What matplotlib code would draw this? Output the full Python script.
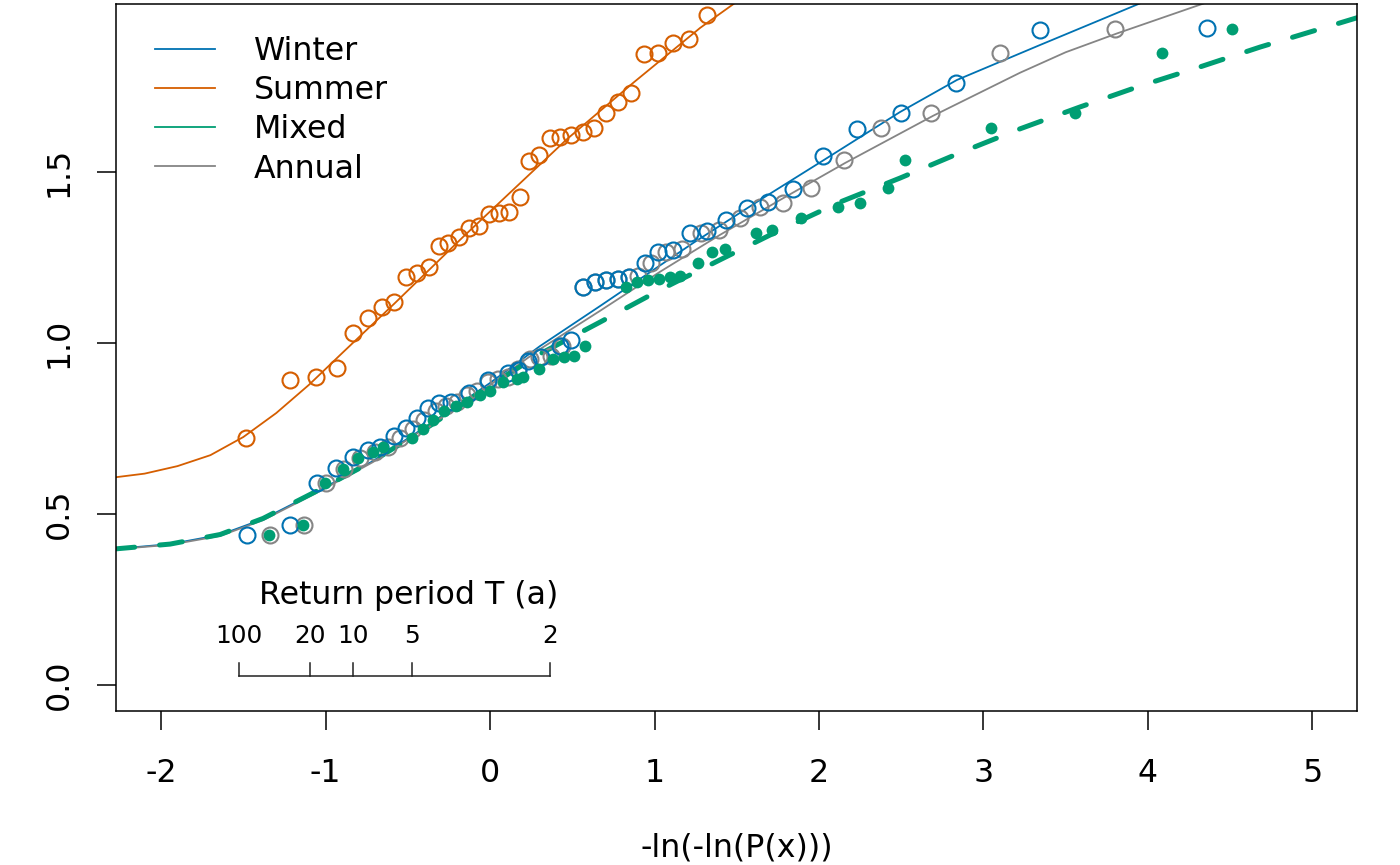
import numpy as np
import matplotlib
matplotlib.use("Agg")
import matplotlib.pyplot as plt
from matplotlib.lines import Line2D

plt.rcParams['font.family'] = ['DejaVu Sans']
plt.rcParams['axes.unicode_minus'] = False

# ---------------- data ----------------
series_names = ["Winter", "Summer", "Mixed", "Annual"]
series_colors = ["#0072B2", "#D55E00", "#009E73", "#858585"]

# Winter sample (open blue circles)
winter_x = [-1.477, -1.216, -1.052, -0.936, -0.833, -0.742, -0.669, -0.584, -0.511, -0.444,
            -0.377, -0.310, -0.237, -0.128, -0.012, 0.109, 0.170, 0.231, 0.310, 0.426,
            0.492, 0.565, 0.638, 0.705, 0.778, 0.845, 0.942, 1.021, 1.112, 1.216,
            1.319, 1.435, 1.562, 1.690, 1.842, 2.024, 2.231, 2.498, 2.833, 3.343, 4.359]
winter_y = [0.439, 0.468, 0.591, 0.635, 0.667, 0.687, 0.696, 0.728, 0.751, 0.781,
            0.810, 0.825, 0.827, 0.854, 0.892, 0.912, 0.921, 0.947, 0.959, 0.991,
            1.009, 1.164, 1.178, 1.184, 1.187, 1.193, 1.234, 1.266, 1.272, 1.322,
            1.327, 1.360, 1.395, 1.412, 1.450, 1.547, 1.626, 1.673, 1.760, 1.915, 1.921]

# Summer sample (open orange circles)
summer_x = [-1.483, -1.216, -1.058, -0.930, -0.833, -0.742, -0.657, -0.584, -0.511, -0.444,
            -0.371, -0.310, -0.255, -0.188, -0.128, -0.067, -0.006, 0.055, 0.116, 0.182,
            0.237, 0.298, 0.365, 0.426, 0.492, 0.565, 0.632, 0.705, 0.778, 0.857,
            0.936, 1.021, 1.112, 1.210, 1.319]
summer_y = [0.722, 0.892, 0.901, 0.927, 1.029, 1.073, 1.105, 1.120, 1.193, 1.205,
            1.222, 1.284, 1.292, 1.310, 1.336, 1.342, 1.377, 1.380, 1.383, 1.427,
            1.532, 1.550, 1.599, 1.602, 1.608, 1.617, 1.629, 1.673, 1.705, 1.731,
            1.845, 1.848, 1.877, 1.889, 1.959]

# Annual sample: values, Gumbel positions (grey circles), mixed positions (green dots)
annual_y = [0.439, 0.468, 0.591, 0.632, 0.664, 0.681, 0.696, 0.722, 0.749, 0.775,
            0.801, 0.816, 0.827, 0.848, 0.860, 0.886, 0.895, 0.901, 0.924, 0.953,
            0.959, 0.962, 0.991, 1.164, 1.178, 1.184, 1.187, 1.193, 1.196, 1.234,
            1.266, 1.275, 1.322, 1.330, 1.365, 1.398, 1.409, 1.453, 1.535, 1.629,
            1.673, 1.848, 1.918]
annual_x = [-1.34, -1.13, -1.00, -0.89, -0.79, -0.70, -0.62, -0.55, -0.47, -0.40,
            -0.33, -0.27, -0.20, -0.14, -0.08, -0.01, 0.05, 0.11, 0.17, 0.24,
            0.30, 0.37, 0.44, 0.565, 0.638, 0.705, 0.778, 0.845, 0.90, 0.98,
            1.07, 1.17, 1.28, 1.39, 1.52, 1.64, 1.78, 1.95, 2.15, 2.38,
            2.68, 3.10, 3.80]
mixed_x = [-1.343, -1.137, -1.003, -0.894, -0.802, -0.711, -0.650, -0.474, -0.407, -0.347,
           -0.280, -0.207, -0.140, -0.061, 0.000, 0.079, 0.164, 0.201, 0.298, 0.383,
           0.450, 0.511, 0.578, 0.827, 0.894, 0.960, 1.027, 1.094, 1.155, 1.264,
           1.350, 1.429, 1.617, 1.714, 1.891, 2.116, 2.249, 2.419, 2.523, 3.046,
           3.556, 4.085, 4.511]

# Fitted curves
winter_fit_x = [-2.30, -1.945, -1.641, -1.380, -1.033, -0.711, -0.365, 0.000, 0.304, 0.669,
                1.234, 1.641, 2.030, 2.492, 2.839, 3.343, 3.708, 3.957, 4.10]
winter_fit_y = [0.397, 0.412, 0.439, 0.485, 0.570, 0.655, 0.763, 0.883, 0.991, 1.108,
                1.292, 1.418, 1.535, 1.675, 1.769, 1.871, 1.944, 1.994, 2.030]
summer_fit_x = [-2.30, -2.10, -1.90, -1.70, -1.50, -1.30, -1.10, -0.90, -0.584, -0.164,
                0.061, 0.468, 0.869, 1.277, 1.489, 1.55]
summer_fit_y = [0.606, 0.618, 0.640, 0.672, 0.725, 0.795, 0.878, 0.970, 1.114, 1.310,
                1.412, 1.596, 1.760, 1.921, 1.994, 2.010]
annual_fit_x = [-2.30, -1.945, -1.641, -1.380, -1.033, -0.711, -0.365, 0.000, 0.304, 0.669,
                1.033, 1.398, 1.763, 2.158, 2.693, 3.222, 3.500, 3.812, 4.347, 4.45]
annual_fit_y = [0.396, 0.410, 0.436, 0.482, 0.567, 0.652, 0.760, 0.877, 0.982, 1.094,
                1.208, 1.316, 1.418, 1.526, 1.664, 1.790, 1.850, 1.905, 1.994, 2.010]
mixed_fit_x = [-2.30, -1.945, -1.641, -1.380, -1.033, -0.711, -0.365, 0.000, 0.304, 0.669,
               1.033, 1.398, 1.763, 2.128, 2.492, 2.857, 3.222, 3.587, 3.951, 4.316,
               4.681, 5.046, 5.30]
mixed_fit_y = [0.397, 0.412, 0.440, 0.487, 0.572, 0.655, 0.758, 0.875, 0.968, 1.061,
               1.155, 1.243, 1.330, 1.412, 1.482, 1.556, 1.626, 1.690, 1.751, 1.807,
               1.865, 1.918, 1.955]

# Return-period scale
return_periods = [100, 20, 10, 5, 2]
x_ticks = [-2, -1, 0, 1, 2, 3, 4, 5]
y_ticks = [0.0, 0.5, 1.0, 1.5]
y_tick_labels = ["0.0", "0.5", "1.0", "1.5"]

# ---------------- figure ----------------
FS = 22.8
fig = plt.figure(figsize=(14, 8.65), dpi=100)
ax = fig.add_axes([0.08286, 0.17803, 0.88643, 0.81734])
ax.set_xlim(-2.274, 5.271)
ax.set_ylim(-0.076, 1.991)

c_w, c_s, c_m, c_a = series_colors
lw = 1.3
ax.plot(summer_fit_x, summer_fit_y, color=c_s, lw=lw, zorder=2)
ax.plot(winter_fit_x, winter_fit_y, color=c_w, lw=lw, zorder=2)
ax.plot(annual_fit_x, annual_fit_y, color=c_a, lw=lw, zorder=2)
ax.plot(mixed_fit_x, mixed_fit_y, color=c_m, lw=3.6, zorder=2,
        linestyle=(0, (4.6, 5.0)), dash_capstyle='round', solid_capstyle='round')

ms = 11.5
mew = 1.5
ax.plot(annual_x, annual_y, 'o', mfc='none', mec=c_a, ms=ms, mew=mew, zorder=3)
ax.plot(winter_x, winter_y, 'o', mfc='none', mec=c_w, ms=ms, mew=mew, zorder=3)
ax.plot(summer_x, summer_y, 'o', mfc='none', mec=c_s, ms=ms, mew=mew, zorder=3)
ax.plot(mixed_x, annual_y, 'o', color=c_m, ms=8.5, mew=0, zorder=4)

# return period inset axis
rp = np.array(return_periods, dtype=float)
rp_pos = -np.log(-np.log(1.0 / rp))
y_base, y_top, y_lab = 0.026, 0.064, 0.143
ax.plot([rp_pos.min(), rp_pos.max()], [y_base, y_base], color='#222222', lw=1.1, zorder=2)
for p, t in zip(rp_pos, return_periods):
    ax.plot([p, p], [y_base, y_top], color='#222222', lw=1.1, zorder=2)
    ax.text(p, y_lab, str(t), ha='center', va='center', fontsize=17.8)
ax.text(-0.492, 0.263, "Return period T (a)", ha='center', va='center', fontsize=FS)

# axes styling
ax.set_xticks(x_ticks)
ax.set_xticklabels([str(v) for v in x_ticks])
ax.set_yticks(y_ticks)
ax.set_yticklabels(y_tick_labels)
ax.tick_params(axis='x', direction='out', length=13.5, width=1.1, labelsize=FS, pad=20)
ax.tick_params(axis='y', direction='out', length=13.5, width=1.1, labelsize=FS, pad=16)
for lab in ax.get_yticklabels():
    lab.set_rotation(90)
    lab.set_va('center')
for sp in ax.spines.values():
    sp.set_linewidth(1.1)

fig.text(736.5 / 1400, 1 - 848 / 865, "-ln(-ln(P(x)))", ha='center', va='center', fontsize=FS)

handles = [Line2D([], [], color=c, lw=lw) for c in series_colors]
ax.legend(handles, series_names, loc='upper left', bbox_to_anchor=(0.0314, 0.955),
          borderaxespad=0, borderpad=0, frameon=False, fontsize=FS,
          handlelength=1.89, handletextpad=1.23, labelspacing=0.26)

fig.savefig("out.png", dpi=100)
